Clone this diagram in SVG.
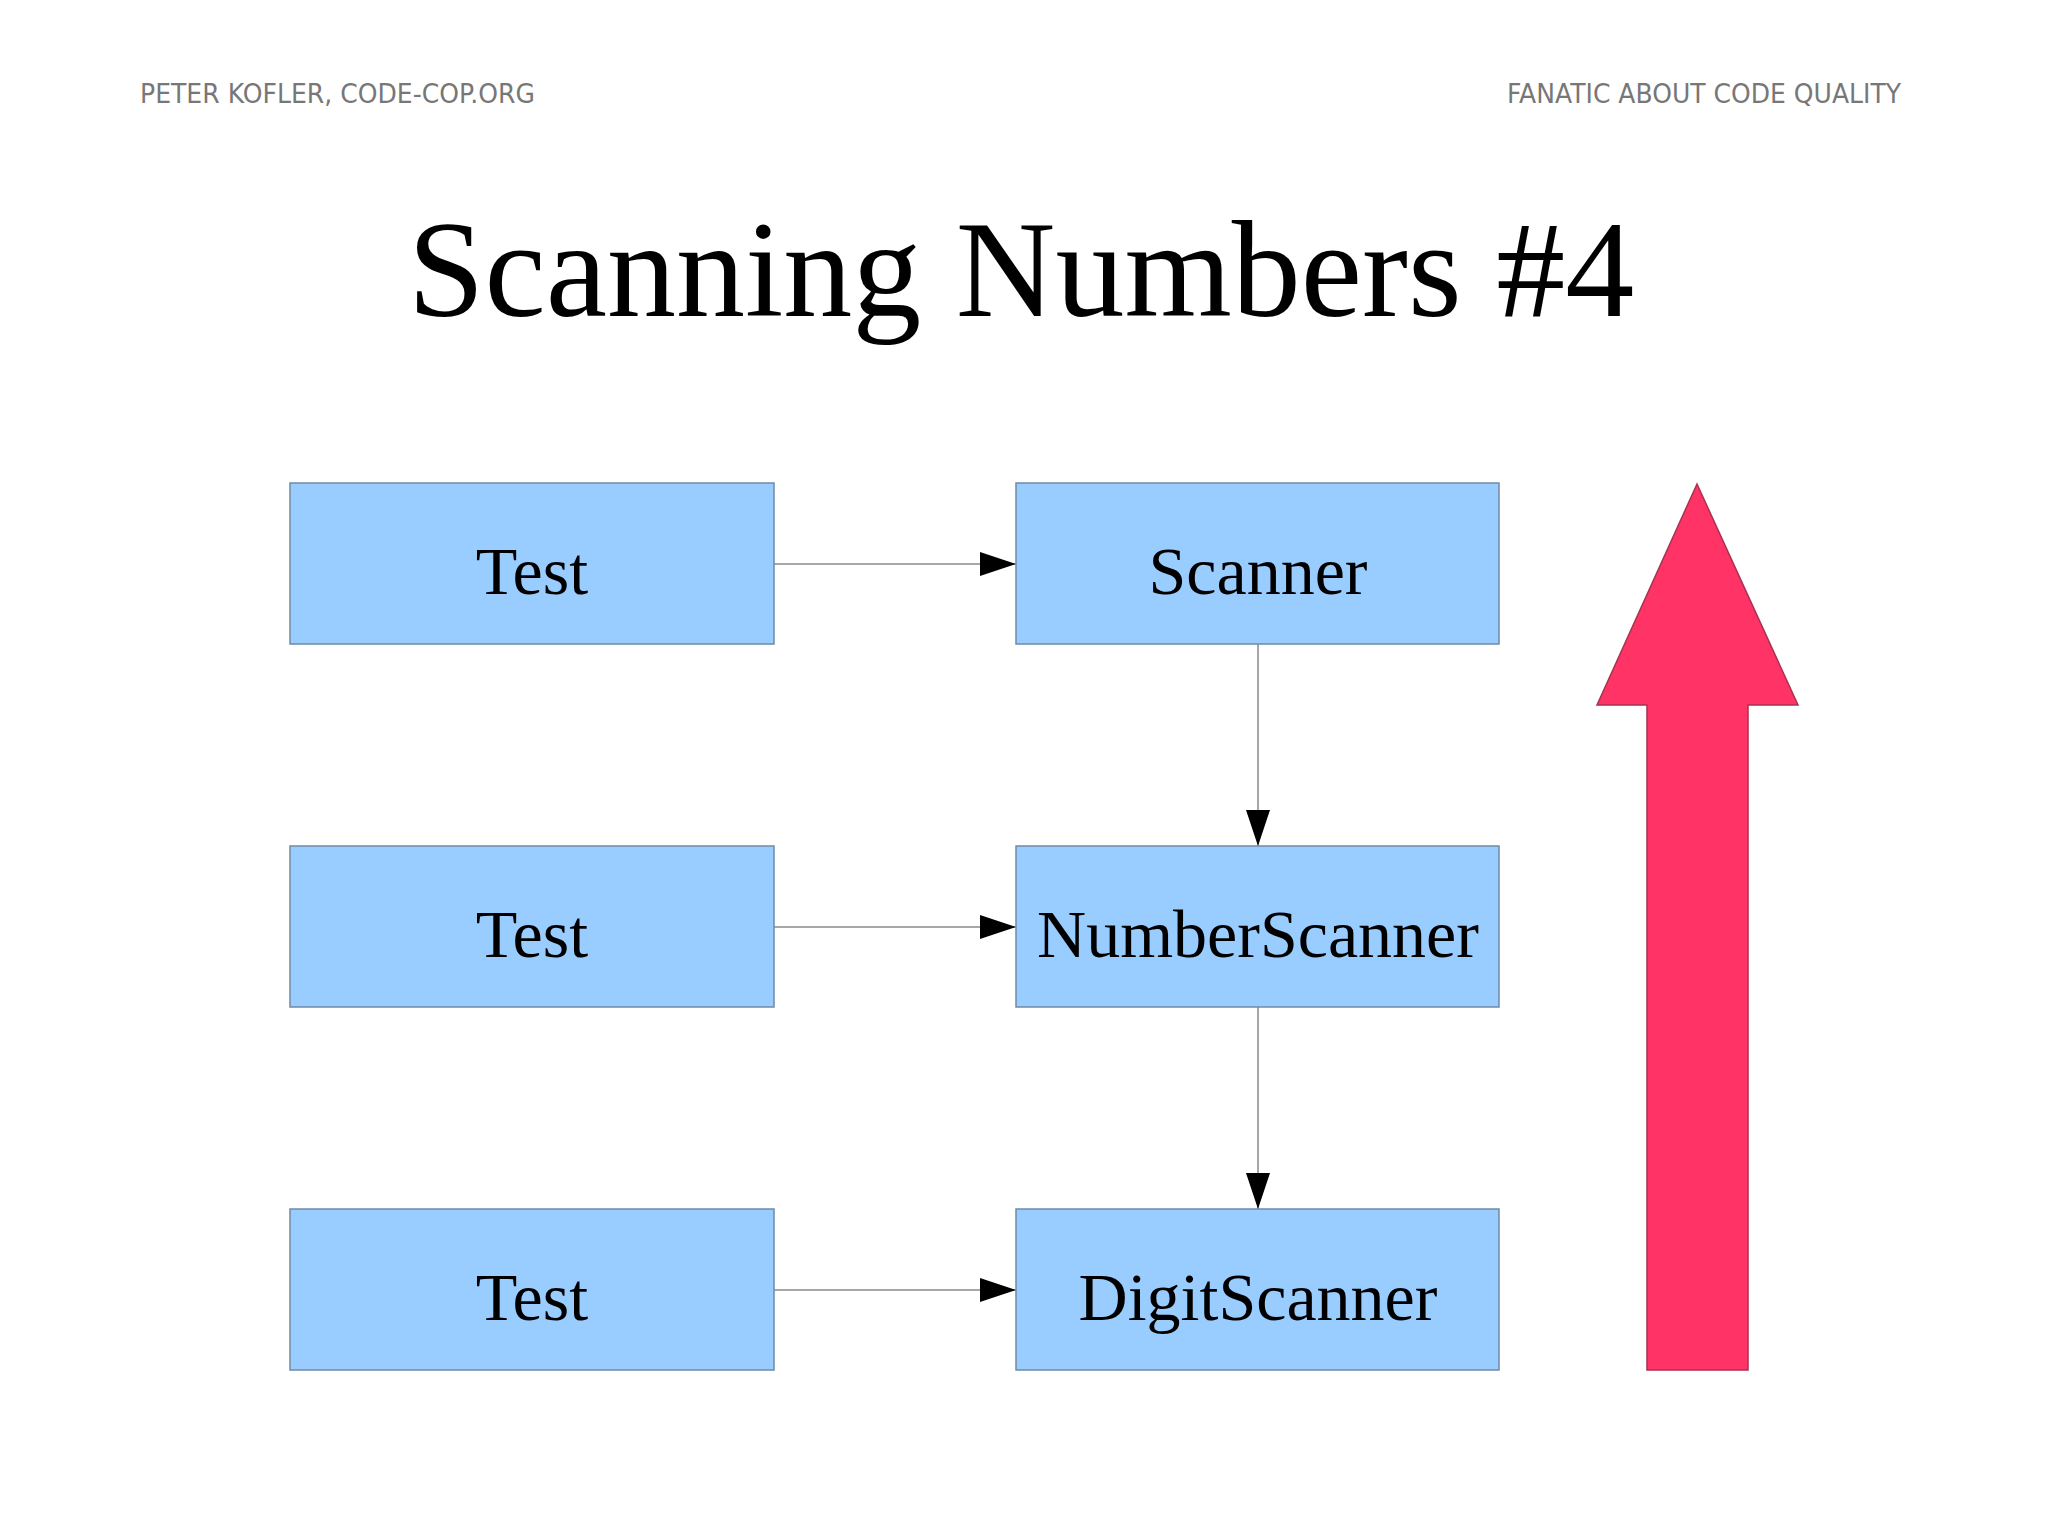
<svg xmlns="http://www.w3.org/2000/svg" width="2048" height="1536" viewBox="0 0 2048 1536">
  <style>
    .hdr { font-family: "DejaVu Sans", "Liberation Sans", sans-serif; font-size: 27px; fill: #777777; }
    .title { font-family: "Liberation Serif", "Times New Roman", serif; font-size: 138px; fill: #000000; }
    .box { fill: #99ccff; stroke: #6f8aa6; stroke-width: 1.5; }
    .lbl { font-family: "Liberation Serif", "Times New Roman", serif; font-size: 68px; fill: #000000; text-anchor: middle; }
    .conn { stroke: #8a8a8a; stroke-width: 1.5; fill: none; }
    .big { fill: #ff3366; stroke: #a8324f; stroke-width: 1.5; }
  </style>
  <defs>
    <marker id="ah" markerUnits="userSpaceOnUse" markerWidth="36" markerHeight="24" refX="36" refY="12" orient="auto" viewBox="0 0 36 24">
      <path d="M0,0 L36,12 L0,24 Z" fill="#000000"/>
    </marker>
  </defs>
  <rect x="0" y="0" width="2048" height="1536" fill="#ffffff"/>

  <text class="hdr" x="140" y="103" textLength="395" lengthAdjust="spacingAndGlyphs">PETER KOFLER, CODE-COP.ORG</text>
  <text class="hdr" x="1901" y="103" text-anchor="end" textLength="394" lengthAdjust="spacingAndGlyphs">FANATIC ABOUT CODE QUALITY</text>

  <text class="title" x="1021" y="316" text-anchor="middle">Scanning Numbers #4</text>

  <g id="connectors">
    <line class="conn" x1="774" y1="564" x2="1016" y2="564" marker-end="url(#ah)"/>
    <line class="conn" x1="774" y1="927" x2="1016" y2="927" marker-end="url(#ah)"/>
    <line class="conn" x1="774" y1="1290" x2="1016" y2="1290" marker-end="url(#ah)"/>
    <line class="conn" x1="1258" y1="644" x2="1258" y2="846" marker-end="url(#ah)"/>
    <line class="conn" x1="1258" y1="1007" x2="1258" y2="1209" marker-end="url(#ah)"/>
  </g>

  <g id="test1">
    <rect class="box" x="290" y="483" width="484" height="161"/>
    <text class="lbl" x="532" y="594">Test</text>
  </g>
  <g id="test2">
    <rect class="box" x="290" y="846" width="484" height="161"/>
    <text class="lbl" x="532" y="957">Test</text>
  </g>
  <g id="test3">
    <rect class="box" x="290" y="1209" width="484" height="161"/>
    <text class="lbl" x="532" y="1320">Test</text>
  </g>
  <g id="scanner">
    <rect class="box" x="1016" y="483" width="483" height="161"/>
    <text class="lbl" x="1258" y="594">Scanner</text>
  </g>
  <g id="numberscanner">
    <rect class="box" x="1016" y="846" width="483" height="161"/>
    <text class="lbl" x="1258" y="957">NumberScanner</text>
  </g>
  <g id="digitscanner">
    <rect class="box" x="1016" y="1209" width="483" height="161"/>
    <text class="lbl" x="1258" y="1320">DigitScanner</text>
  </g>

  <g id="bigarrow">
    <polygon class="big" points="1697,484 1798,705 1748,705 1748,1370 1647,1370 1647,705 1597,705"/>
  </g>
</svg>
